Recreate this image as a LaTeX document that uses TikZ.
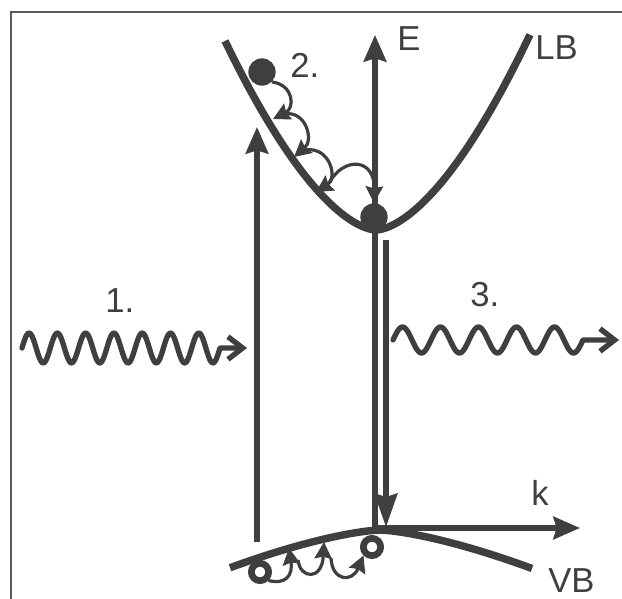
\documentclass[tikz,border=0pt]{standalone}
\usepackage{fontspec}
\setmainfont{Liberation Sans}
\usetikzlibrary{arrows.meta}
\definecolor{ink}{HTML}{3E3F41}
\definecolor{framegray}{HTML}{5A5A5A}
\begin{document}
\begin{tikzpicture}[x=0.75pt,y=-0.75pt,
  band/.style={draw=ink,line width=5.6pt},
  axisline/.style={draw=ink,line width=3.8pt},
  bigtip/.style={-{Stealth[length=20pt,width=17pt,inset=2.5pt]}},
  hop/.style={draw=ink,line width=2.4pt,-{Stealth[length=12.5pt,width=13pt,inset=1.5pt]}},
  wave/.style={draw=ink,line width=4pt,line cap=round,line join=round,-{Straight Barb[length=11pt,width=17pt]}},
  ball/.style={circle,fill=ink,minimum size=20.5pt,inner sep=0pt},
  hole/.style={circle,draw=ink,fill=white,line width=5pt,minimum size=13pt,inner sep=0pt},
  lbl/.style={text=ink,font=\fontsize{26}{30}\selectfont,inner sep=0pt,anchor=base west},
  framestyle/.style={draw=framegray,line width=1.5pt}]
\useasboundingbox (0,0) rectangle (622,599);
% frame
\draw[framestyle] (11,599) -- (11,12) -- (622,12);
% coordinates
\coordinate (eBot) at (375,528);
\coordinate (eTop) at (375,35);
\coordinate (kEnd) at (580,528);
\coordinate (absBot) at (257,542);
\coordinate (absTop) at (257,127);
\coordinate (emTop) at (386,240);
\coordinate (emBot) at (386,527);
% bands
\draw[band] plot[domain=-151:154,samples=120,smooth] ({376+\x},{230-0.048*pow(abs(\x)+0.01,1.65)});
\draw[band] plot[domain=-150:152,samples=120,smooth] ({380+\x},{530+0.0264*pow(abs(\x)+0.01,1.45)});
% axes
\draw[axisline,bigtip] (eBot) -- (eTop);
\draw[axisline,bigtip] (eBot) -- (kEnd);
% absorption and emission arrows
\draw[axisline,bigtip] (absBot) -- (absTop);
\draw[axisline,-{Stealth[length=25pt,width=17pt,inset=2.5pt]}] (emTop) -- (emBot);
% electrons
\node[ball] (el1) at (262,72) {};
\node[ball] (el2) at (374,217) {};
% electron hops
\draw[hop] (el1.south east) .. controls (294,85) and (295,108) .. (273,119);
\draw[hop] (284,114) .. controls (306,110) and (314,140) .. (294,157);
\draw[hop] (305,150) .. controls (330,146) and (338,178) .. (316,192);
\draw[hop] (329,183) .. controls (344,156) and (375,158) .. (el2.north);
% holes
\node[hole] (h1) at (260,572) {};
\node[hole] (h2) at (372,547) {};
% hole hops
\draw[hop] (h1.south east) .. controls (286,585) and (293,575) .. (289,548);
\draw[hop] (298,560) .. controls (300,579) and (322,581) .. (324,542);
\draw[hop] (331,558) .. controls (332,581) and (352,583) .. (h2.south west);
% photons
\draw[wave] plot[domain=22:220,samples=160,smooth] (\x,{348-15*sin(12.727*(\x-22))}) -- (247,348);
\draw[wave] plot[domain=393:583,samples=160,smooth] (\x,{340-13*sin(9.4737*(\x-393))}) -- (619,340);
% labels
\node[lbl] (l1) at (105,313) {1.};
\node[lbl] (l2) at (290,78) {2.};
\node[lbl] (l3) at (470,307) {3.};
\node[lbl] (lE) at (397,51) {E};
\node[lbl] (lLB) at (535,60) {LB};
\node[lbl] (lk) at (531,505) {k};
\node[lbl] (lVB) at (548,592) {VB};
\end{tikzpicture}
\end{document}
